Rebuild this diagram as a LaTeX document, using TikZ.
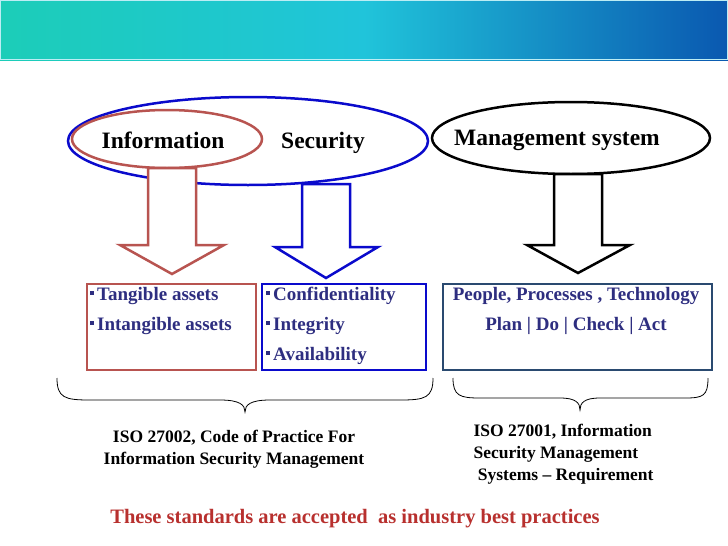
\documentclass[tikz,border=0pt]{standalone}
\usepackage{fontspec}
\setmainfont{Liberation Serif}
\definecolor{redc}{HTML}{B85450}
\definecolor{bluec}{HTML}{0A0ACC}
\definecolor{navyb}{HTML}{2A4A70}
\definecolor{txt}{HTML}{2E2E80}
\definecolor{gl}{HTML}{1CCDB8}
\definecolor{gm}{HTML}{20C4DA}
\definecolor{gr}{HTML}{0A58B0}
\definecolor{redt}{HTML}{B8302E}
\begin{document}
\begin{tikzpicture}[x=1pt,y=-1pt,
  lbl/.style={font=\bfseries\fontsize{23.5}{24}\selectfont},
  bx/.style={font=\bfseries\fontsize{19}{20}\selectfont,text=txt,anchor=west,inner sep=0pt},
  arr/.style={line width=2.5pt,fill=white},
  bul/.style={fill=txt,minimum size=4pt,inner sep=0pt}]
\useasboundingbox (0,0) rectangle (728,546);
\fill[white] (0,0) rectangle (728,546);
% banner
\shade[left color=gl,right color=gr,middle color=gm] (0,0) rectangle (728,60);
\draw[white!70!gm,line width=1pt] (0.5,0.5) rectangle (727.5,59.5);
% ellipses
\draw[bluec,line width=2.5pt] (248,141) ellipse[x radius=180,y radius=44];
\draw[redc,line width=2.5pt] (167,139) ellipse[x radius=95,y radius=29];
\draw[black,line width=2.5pt] (571,138) ellipse[x radius=139,y radius=36];
\node[lbl] (info) at (163,140) {Information};
\node[lbl] (sec) at (323,143) {Security};
\node[lbl] (mgmt) at (557,140) {Management system};
% arrows
\draw[arr,draw=redc] (148,168) -- (196,168) -- (196,245) -- (224,245) -- (172,274) -- (120,245) -- (148,245) -- cycle;
\draw[arr,draw=bluec] (302,184) -- (350,184) -- (350,247) -- (378,247) -- (326,278) -- (275,247) -- (302,247) -- cycle;
\draw[arr,draw=black] (554,174) -- (602,174) -- (602,245) -- (630,245) -- (578,273) -- (527,245) -- (554,245) -- cycle;
% boxes
\draw[redc,line width=2.5pt] (87,284) rectangle (256,370);
\draw[bluec,line width=2.5pt] (262,284) rectangle (426,370);
\draw[navyb,line width=2.5pt] (443,284) rectangle (712,370);
\node[bx] (a1) at (97,296) {Tangible assets};
\node[bx] (a2) at (97,326) {Intangible assets};
\node[bx] (b1) at (273,296) {Confidentiality};
\node[bx] (b2) at (273,326) {Integrity};
\node[bx] (b3) at (273,356) {Availability};
\foreach \y in {293,323} \node[bul] at (92,\y) {};
\foreach \y in {293,323,353} \node[bul] at (268,\y) {};
\node[bx,anchor=center] (c1) at (576,296) {People, Processes , Technology};
\node[bx,anchor=center] (c2) at (576,326) {Plan | Do | Check | Act};
% braces
\draw[line width=0.8pt] (57,378) .. controls (57,398) and (65,400) .. (90,400) -- (220,400) .. controls (240,400) and (245,405) .. (245,412)
  .. controls (245,405) and (250,400) .. (270,400) -- (400,400) .. controls (425,400) and (433,398) .. (433,378);
\draw[line width=0.8pt] (453,378) .. controls (453,396) and (460,398) .. (480,398) -- (560,398) .. controls (576,398) and (580,403) .. (580,410)
  .. controls (580,403) and (584,398) .. (600,398) -- (685,398) .. controls (703,398) and (708,396) .. (708,378);
% bottom texts
\node[font=\bfseries\fontsize{17.5}{22}\selectfont,align=center] (iso2) at (234,449) {ISO 27002, Code of Practice For\\Information Security Management};
\node[font=\bfseries\fontsize{17.5}{22}\selectfont,align=left,anchor=north west] (iso1) at (470,421) {ISO 27001, Information\\Security Management\\\ Systems -- Requirement};
\node[font=\bfseries\fontsize{20.5}{20}\selectfont,text=redt] (std) at (355,519) {These standards are accepted\ \ as industry best practices};
\end{tikzpicture}
\end{document}
